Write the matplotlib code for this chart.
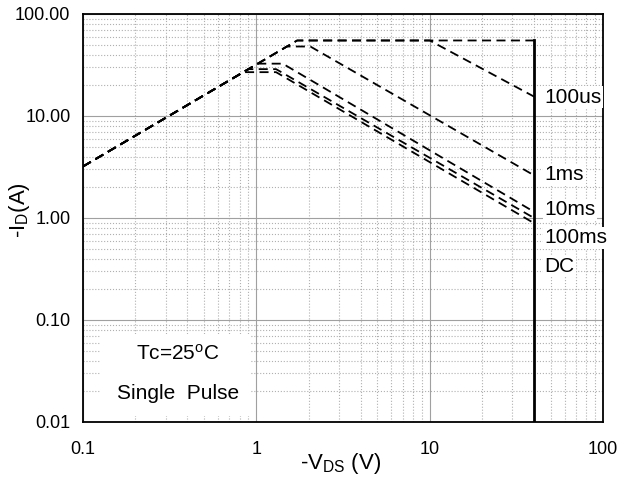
import matplotlib
matplotlib.use("Agg")
import matplotlib.pyplot as plt
from matplotlib.patches import Rectangle

plt.rcParams['font.family'] = ['Liberation Sans', 'DejaVu Sans']
plt.rcParams['mathtext.default'] = 'regular'

# Safe operating area curves (-VDS in V, -ID in A)
x_10us = [0.1, 1.72, 40]
y_10us = [3.2, 55, 55]
x_100us = [0.1, 1.72, 10.0, 40]
y_100us = [3.2, 55, 55, 15.5]
x_1ms = [0.1, 1.5, 2.05, 40]
y_1ms = [3.2, 48, 48, 2.62]
x_10ms = [0.1, 1.02, 1.42, 40]
y_10ms = [3.2, 32.6, 32.6, 1.15]
x_100ms = [0.1, 0.9, 1.3, 40]
y_100ms = [3.2, 28.8, 28.8, 1.0]
x_dc = [0.1, 0.84, 1.3, 40]
y_dc = [3.2, 26.9, 26.9, 0.89]
x_bv = [40, 40]
y_bv = [0.01, 55]

labels = ["100us", "1ms", "10ms", "100ms", "DC"]
label_y = [15.3, 2.64, 1.2, 0.64, 0.338]

xticks = [0.1, 1, 10, 100]
xticklabels = ["0.1", "1", "10", "100"]
yticks = [0.01, 0.1, 1, 10, 100]
yticklabels = ["0.01", "0.10", "1.00", "10.00", "100.00"]

fig = plt.figure(figsize=(6.31, 4.82), dpi=100)
ax = fig.add_axes([83/631, 1-422/482, 520/631, 408/482])
ax.set_xscale('log')
ax.set_yscale('log')
ax.set_xlim(0.1, 100)
ax.set_ylim(0.01, 100)

ax.grid(which='major', color='#a0a0a0', linestyle='-', linewidth=0.8)
ax.grid(which='minor', color='#b0b0b0', linestyle=':', linewidth=0.8)
ax.set_axisbelow(True)

dash = (0, (5, 3))
for xs, ys in [(x_10us, y_10us), (x_100us, y_100us), (x_1ms, y_1ms),
               (x_10ms, y_10ms), (x_100ms, y_100ms), (x_dc, y_dc)]:
    ax.plot(xs, ys, color='black', linestyle=dash, linewidth=1.3, zorder=3)
ax.plot(x_bv, y_bv, color='black', linestyle='-', linewidth=2.0, zorder=3)

for lab, ly in zip(labels, label_y):
    ax.text(46, ly, lab, fontsize=15, ha='left', va='center', zorder=6, clip_on=False,
            bbox=dict(facecolor='white', edgecolor='none', pad=1.0))

ax.add_patch(Rectangle((0.033, 0.015), 0.29, 0.2, transform=ax.transAxes,
                       facecolor='white', edgecolor='none', zorder=4))
ax.text(0.183, 0.168, "Tc=25$^{o}$C", transform=ax.transAxes, fontsize=15,
        ha='center', va='center', zorder=5)
ax.text(0.183, 0.07, "Single  Pulse", transform=ax.transAxes, fontsize=15,
        ha='center', va='center', zorder=5)

ax.set_xticks(xticks)
ax.set_xticklabels(xticklabels)
ax.set_yticks(yticks)
ax.set_yticklabels(yticklabels)
ax.tick_params(which='both', length=0, labelsize=13)
ax.tick_params(axis='x', pad=14)
ax.tick_params(axis='y', pad=9)

for s in ax.spines.values():
    s.set_linewidth(1.3)
    s.set_color('black')

ax.set_xlabel("-V$_{DS}$ (V)", fontsize=16)
ax.set_ylabel("-I$_{D}$(A)", fontsize=16)
ax.xaxis.set_label_coords(0.495, -0.072)
ax.yaxis.set_label_coords(-0.098, 0.52)

fig.savefig("out.png", dpi=100)
